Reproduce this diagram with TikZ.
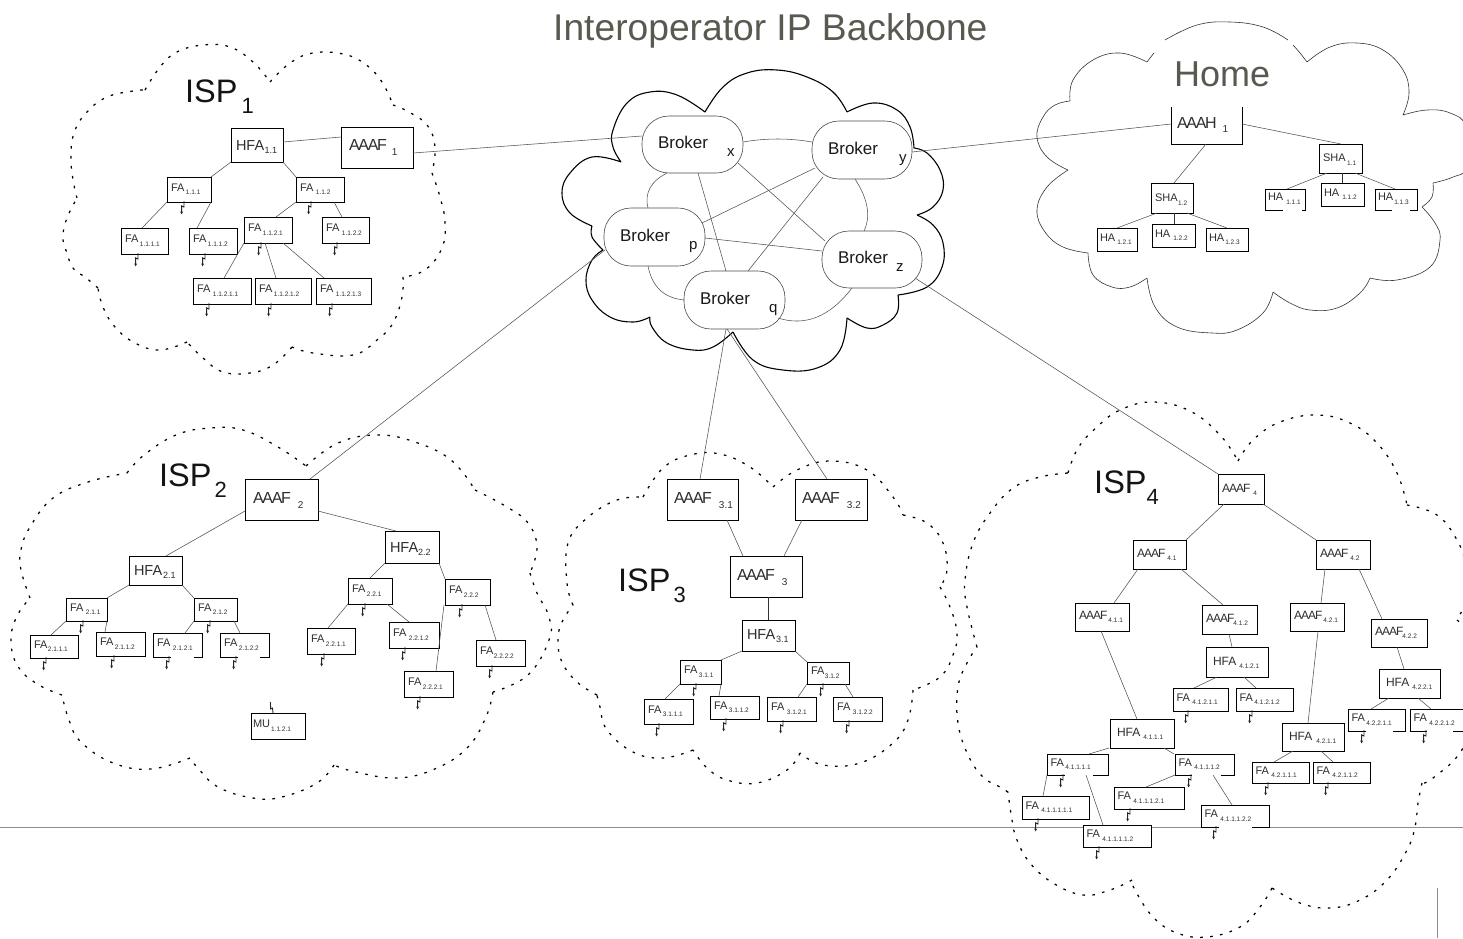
\documentclass[tikz,border=0pt]{standalone}
\usepackage{fontspec}
\setmainfont{Liberation Sans}
\newfontfamily\tightf[LetterSpace=-8]{Liberation Sans}
\usetikzlibrary{calc,arrows.meta}
\definecolor{titlegrey}{HTML}{5A5950}
\tikzset{
  box/.style={draw=black,fill=white,line width=1pt,inner ysep=0pt,outer sep=0pt,align=left,text=black!82},
  brokerbox/.style={draw=black!70,fill=white,line width=.6pt,rounded corners=27pt,inner ysep=0pt,outer sep=0pt,align=left,text=black!90},
  conn/.style={draw=black!68,line width=.55pt},
  connthick/.style={draw=black!80,line width=.9pt},
  zz/.style={draw=black!85,line width=.9pt,-{Stealth[length=2.8pt,width=2.8pt]}},
  zzup/.style={draw=black!85,line width=.9pt},
  gapline/.style={draw=white,line width=1.6pt},
  ispcloud/.style={draw=black,line width=1.25pt,dash pattern=on 2.6pt off 7.4pt},
  brokercloud/.style={draw=black,line width=1.1pt},
  homecloud/.style={draw=black!80,line width=.6pt},
  biglabel/.style={anchor=base west,inner sep=0pt,text=black!92},
  graylabel/.style={anchor=base west,inner sep=0pt,text=titlegrey},
  rulegrey/.style={draw=black!45,line width=.7pt}
}
\def\kStyle{box}
\newcommand\Kind[5]{\def\kM{#1}\def\kS{#2}\def\kB{#3}\def\kD{#4}\def\kP{#5}}
\newcommand\Bx[8]{%
  \pgfmathsetmacro\bw{#4-#2}\pgfmathsetmacro\bh{#5-#3}%
  \pgfmathsetmacro\bT{\kB*\bh}\pgfmathsetmacro\bD{\bh-\bT}\pgfmathsetmacro\bX{\bw-2*\kP}%
  \node[\kStyle,inner xsep=\kP pt,text width=\bX pt,text height=\bT pt,text depth=\bD pt] (#1) at ({(#2+#4)/2},{(#3+#5)/2})
    {\mbox{\fontsize{\kM}{\kM}\selectfont #6\hspace*{#7pt}\raisebox{-\kD pt}{\fontsize{\kS}{\kS}\selectfont #8}}};}
\newcommand\Ed[4]{\draw[conn] (#2,0 |- #1.south) -- (#4,0 |- #3.north);}
\newcommand\Zg[2]{\draw[zz] (#2+1,0 |- #1.south) ++(0,-1) -- ++(0,6) -- ++(-2.4,-1.2) -- ++(0,8.5);}
\newcommand\GapS[3]{\draw[gapline] (#2,0 |- #1.south) -- (#3,0 |- #1.south);}
\newcommand\GapN[3]{\draw[gapline] (#2,0 |- #1.north) -- (#3,0 |- #1.north);}
\newcommand\AF{{\tightf AAAF}}
\newcommand\AH{{\tightf AAAH}}
\newcommand\IspL[4]{\node[biglabel] (#1) at (#2) {\fontsize{32.5}{32.5}\selectfont ISP\hspace*{#3pt}\raisebox{-11pt}{\fontsize{22}{22}\selectfont #4}};}
\begin{document}
\begin{tikzpicture}[x=1pt,y=-1pt]
\useasboundingbox (0,0) rectangle (1463,938);
\fill[white] (0,0) rectangle (1463,938);
% rules
\coordinate (ruleL) at (0,827); \coordinate (ruleR) at (1463,827);
\coordinate (ruleT) at (1437,888); \coordinate (ruleB) at (1437,938);
\draw[rulegrey] (ruleL) -- (ruleR);
\draw[rulegrey] (ruleT) -- (ruleB);
% ISP1 cloud
\draw[ispcloud]
 plot[smooth,tension=.7] coordinates {(145,90)(160,67)(177,52)(203,45)(230,47)(253,62)(270,82)}
 plot[smooth,tension=.7] coordinates {(270,82)(290,63)(313,53)(343,54)(365,64)(382,82)(393,105)}
 plot[smooth,tension=.7] coordinates {(393,105)(407,111)(427,125)(435,147)(432,173)}
 plot[smooth,tension=.7] coordinates {(432,173)(440,197)(445,222)(442,248)(425,270)(403,277)}
 plot[smooth,tension=.7] coordinates {(403,277)(402,297)(393,323)(377,340)(353,355)(313,353)(292,347)}
 plot[smooth,tension=.7] coordinates {(292,347)(273,365)(250,373)(223,372)(203,358)(187,342)}
 plot[smooth,tension=.7] coordinates {(187,342)(160,350)(135,343)(115,327)(103,307)(98,288)}
 plot[smooth,tension=.7] coordinates {(98,288)(85,277)(73,268)(65,247)(63,235)(67,218)(77,198)}
 plot[smooth,tension=.7] coordinates {(77,198)(74,185)(71,160)(74,133)(87,112)(107,97)(133,91)(145,90)};
% ISP2 cloud
\draw[ispcloud]
 plot[smooth,tension=.7] coordinates {(127,473)(144,455)(176,435)(210,428)(243,430)(278,447)(306,466)}
 plot[smooth,tension=.7] coordinates {(306,466)(338,443)(377,435)(415,442)(451,460)(475,490)}
 plot[smooth,tension=.7] coordinates {(475,490)(507,507)(528,523)(537,547)(530,573)}
 plot[smooth,tension=.7] coordinates {(530,573)(537,593)(549,617)(549,640)(528,675)(493,692)}
 plot[smooth,tension=.7] coordinates {(493,692)(486,717)(468,747)(437,768)(398,778)(356,772)(334,765)}
 plot[smooth,tension=.7] coordinates {(334,765)(317,783)(282,797)(253,798)(218,787)(197,767)(190,758)}
 plot[smooth,tension=.7] coordinates {(190,758)(151,769)(113,763)(81,742)(69,720)(62,695)}
 plot[smooth,tension=.7] coordinates {(62,695)(39,685)(19,668)(11,643)(16,618)(30,598)}
 plot[smooth,tension=.7] coordinates {(30,598)(21,570)(21,550)(30,527)(53,498)(88,482)(127,473)};
% ISP3 cloud
\draw[ispcloud]
 plot[smooth,tension=.7] coordinates {(643,497)(663,468)(690,455)(720,454)(750,467)(773,487)}
 plot[smooth,tension=.7] coordinates {(773,487)(797,470)(830,461)(867,470)(893,497)(903,515)}
 plot[smooth,tension=.7] coordinates {(903,515)(927,523)(943,543)(947,570)(940,587)}
 plot[smooth,tension=.7] coordinates {(940,587)(950,607)(957,633)(953,655)(940,677)(913,690)}
 plot[smooth,tension=.7] coordinates {(913,690)(908,720)(893,743)(860,763)(823,765)(800,753)}
 plot[smooth,tension=.7] coordinates {(800,753)(787,770)(757,783)(727,780)(707,768)(693,750)}
 plot[smooth,tension=.7] coordinates {(693,750)(663,758)(633,752)(607,730)(600,707)(597,695)}
 plot[smooth,tension=.7] coordinates {(597,695)(577,682)(562,662)(558,640)(562,622)(573,605)}
 plot[smooth,tension=.7] coordinates {(573,605)(567,583)(568,543)(587,518)(617,500)(643,497)};
% ISP4 cloud
\draw[ispcloud]
 plot[smooth,tension=.7] coordinates {(977,647)(967,607)(965,580)(973,543)(990,513)(1013,488)(1040,477)(1068,473)}
 plot[smooth,tension=.7] coordinates {(1068,473)(1078,448)(1097,427)(1120,410)(1153,402)(1190,411)(1220,435)(1238,461)}
 plot[smooth,tension=.7] coordinates {(1238,461)(1253,440)(1280,422)(1317,415)(1350,423)(1377,443)(1397,473)(1407,505)}
 plot[smooth,tension=.7] coordinates {(1407,505)(1437,515)(1457,540)(1466,565)(1470,590)(1457,620)}
 plot[smooth,tension=.7] coordinates {(1457,620)(1468,637)(1485,690)(1463,748)(1433,778)(1422,783)}
 plot[smooth,tension=.7] coordinates {(1422,783)(1418,803)(1415,827)(1407,850)(1387,880)(1360,900)(1330,908)(1300,903)(1272,888)}
 plot[smooth,tension=.7] coordinates {(1272,888)(1260,907)(1240,927)(1207,937)(1177,933)(1153,917)(1135,890)(1132,880)}
 plot[smooth,tension=.7] coordinates {(1132,880)(1110,890)(1083,895)(1053,883)(1030,863)(1017,840)(1012,820)(1008,792)}
 plot[smooth,tension=.7] coordinates {(1008,792)(1000,787)(983,777)(968,755)(958,723)(958,687)(967,663)(977,647)};
% Broker cloud
\draw[brokercloud]
 plot[smooth,tension=.7] coordinates {(705,112)(723,87)(747,73)(777,70)(807,77)(833,92)(847,112)}
 plot[smooth,tension=.7] coordinates {(847,112)(873,103)(897,110)(910,127)(914,148)}
 plot[smooth,tension=.7] coordinates {(914,148)(927,153)(940,170)(943,190)(933,207)(917,215)}
 plot[smooth,tension=.7] coordinates {(917,215)(933,225)(943,243)(942,267)(927,287)(898,295)}
 plot[smooth,tension=.7] coordinates {(898,295)(897,313)(883,325)(867,328)(847,318)}
 plot[smooth,tension=.7] coordinates {(847,318)(840,350)(817,368)(783,370)(753,360)(733,332)}
 plot[smooth,tension=.7] coordinates {(733,332)(713,347)(693,350)(667,343)(652,327)(650,317)}
 plot[smooth,tension=.7] coordinates {(650,317)(633,322)(610,317)(592,300)(586,280)(592,260)(603,250)}
 plot[smooth,tension=.7] coordinates {(603,250)(592,237)(592,226)}
 plot[smooth,tension=.7] coordinates {(592,226)(570,213)(562,193)(570,173)(592,157)(621,162)}
 plot[smooth,tension=.7] coordinates {(621,162)(613,147)(613,130)(627,103)(650,92)(677,95)(705,112)};
% Home cloud
\draw[homecloud]
 plot[smooth,tension=.7] coordinates {(1070,101)(1073,80)(1093,60)(1120,53)(1147,62)}
 plot[smooth,tension=.7] coordinates {(1147,62)(1150,58)(1154,53)}
 plot[smooth,tension=.7] coordinates {(1165,40)(1197,25)(1230,22)(1263,27)(1288,40)}
 plot[smooth,tension=.7] coordinates {(1293,45)(1300,53)(1307,62)}
 plot[smooth,tension=.7] coordinates {(1307,62)(1330,47)(1357,43)(1383,50)(1403,70)(1409,93)(1403,115)}
 plot[smooth,tension=.7] coordinates {(1403,115)(1427,110)(1450,113)(1466,127)(1466,167)(1453,177)(1433,183)}
 plot[smooth,tension=.7] coordinates {(1433,183)(1432,197)(1422,207)}
 plot[smooth,tension=.7] coordinates {(1422,207)(1435,223)(1440,240)(1430,267)(1397,280)(1370,278)}
 plot[smooth,tension=.7] coordinates {(1370,278)(1360,293)(1337,308)(1310,310)(1290,303)(1273,292)}
 plot[smooth,tension=.7] coordinates {(1273,292)(1263,313)(1237,330)(1212,333)(1177,327)(1155,307)(1147,278)}
 plot[smooth,tension=.7] coordinates {(1147,278)(1130,287)(1112,287)(1093,275)(1088,253)}
 plot[smooth,tension=.7] coordinates {(1088,253)(1063,247)(1045,232)(1037,210)(1047,187)(1068,170)}
 plot[smooth,tension=.7] coordinates {(1068,170)(1047,157)(1037,137)(1043,117)(1055,105)(1070,101)};
% titles
\node[graylabel] (title) at (553,40.5) {\fontsize{37.2}{37.2}\selectfont Interoperator IP Backbone};
\node[graylabel] (home) at (1174,86) {\fontsize{36}{36}\selectfont Home};
\IspL{isp1}{185,102}{4}{1}
\IspL{isp2}{159,486}{3}{2}
\IspL{isp3}{618,591}{3}{3}
\IspL{isp4}{1094,493}{0}{4}
% Brokers
\def\kStyle{brokerbox}
\Kind{17}{15}{.57}{8}{16}
\Bx{bx}{642}{116}{743}{173}{Broker}{19}{x}
\Bx{by}{812}{121}{912}{179}{Broker}{21}{y}
\Bx{bp}{604}{208}{705}{266}{Broker}{19}{p}
\Bx{bz}{822}{231}{922}{288}{Broker}{8}{z}
\Bx{bq}{684}{271}{785}{329}{Broker}{19}{q}
\def\kStyle{box}
% ISP1 boxes
\Kind{14.5}{9}{.67}{3}{5}
\Bx{hfa11}{231}{128}{283}{162}{HFA}{.5}{1.1}
\Kind{16}{10}{.57}{5.5}{8}
\Bx{aaaf1}{341}{127}{413}{168}{\AF}{5}{1}
\Kind{11}{6.5}{.57}{3.5}{4}
\Bx{fa111}{167}{177}{211}{202}{FA}{1.5}{1.1.1}
\Bx{fa112}{296}{177}{344}{202}{FA}{2.5}{1.1.2}
\Bx{fa1111}{121}{228}{168}{254}{FA}{1.5}{1.1.1.1}
\Bx{fa1112}{189}{228}{237}{254}{FA}{1.5}{1.1.1.2}
\Bx{fa1121}{244}{217}{292}{243}{FA}{1.5}{1.1.2.1}
\Bx{fa1122}{322}{217}{369}{243}{FA}{2.5}{1.1.2.2}
\Bx{fa11211}{193}{278}{251}{304}{FA}{2.5}{1.1.2.1.1}
\Bx{fa11212}{255}{278}{311}{304}{FA}{1.5}{1.1.2.1.2}
\Bx{fa11213}{316}{278}{371}{304}{FA}{2.5}{1.1.2.1.3}
% Home boxes
\Kind{16}{10}{.57}{4.5}{6}
\Bx{aaah}{1171}{107}{1242}{144}{\AH}{6}{1}
\GapN{aaah}{1171.5}{1241.5}
\Kind{11}{6.5}{.62}{3.5}{4}
\Bx{sha11}{1319}{144}{1362}{173}{SHA}{1.5}{1.1}
\Bx{sha12}{1151}{183}{1193}{213}{SHA}{.5}{1.2}
\Kind{11}{6.5}{.57}{3.5}{3}
\Bx{ha111}{1265}{189}{1305}{210}{HA}{3}{1.1.1}
\Bx{ha112}{1321}{183}{1364}{206}{HA}{3}{1.1.2}
\Bx{ha113}{1375}{189}{1417}{210}{HA}{1}{1.1.3}
\Bx{ha121}{1097}{228}{1137}{251}{HA}{2}{1.2.1}
\Bx{ha122}{1152}{224}{1195}{247}{HA}{3}{1.2.2}
\Bx{ha123}{1206}{228}{1248}{251}{HA}{1}{1.2.3}
\GapS{ha111}{1283}{1302}
\GapS{ha113}{1392}{1410}
% ISP2 boxes
\Kind{16}{10}{.6}{5}{8}
\Bx{aaaf2}{245}{479}{318}{520}{\AF}{7}{2}
\Kind{14.5}{9}{.67}{3}{5}
\Bx{hfa21}{129}{556}{182}{585}{HFA}{1}{2.1}
\Bx{hfa22}{385}{531}{439}{563}{HFA}{0}{2.2}
\Kind{11}{6.5}{.57}{3.5}{4}
\Bx{fa211}{66}{598}{107}{621}{FA}{2.5}{2.1.1}
\Bx{fa212}{194}{598}{237}{621}{FA}{1.5}{2.1.2}
\Bx{fa2111}{30}{635}{78}{658}{FA}{.5}{2.1.1.1}
\Bx{fa2112}{96}{632}{145}{656}{FA}{1.5}{2.1.1.2}
\Bx{fa2121}{153}{633}{202}{657}{FA}{2.5}{2.1.2.1}
\Bx{fa2122}{220}{633}{269}{657}{FA}{1.5}{2.1.2.2}
\Bx{fa221}{348}{578}{392}{604}{FA}{1.5}{2.2.1}
\Bx{fa222}{445}{579}{490}{605}{FA}{1.5}{2.2.2}
\Bx{fa2211}{307}{628}{355}{654}{FA}{1.5}{2.2.1.1}
\Bx{fa2212}{389}{622}{439}{648}{FA}{2.5}{2.2.1.2}
\Bx{fa2221}{404}{671}{453}{697}{FA}{1.5}{2.2.2.1}
\Bx{fa2222}{476}{640}{525}{666}{FA}{.5}{2.2.2.2}
\GapS{fa2121}{171}{194}
\GapS{fa2122}{238}{260}
\Kind{11}{6.5}{.57}{3.5}{2}
\Bx{mu}{251}{713}{305}{739}{MU}{1}{1.1.2.1}
% ISP3 boxes
\Kind{16}{10}{.6}{5}{7}
\Bx{aaaf31}{667}{479}{738}{520}{\AF}{7}{3.1}
\Bx{aaaf32}{795}{479}{867}{520}{\AF}{7}{3.2}
\Bx{aaaf3}{730}{556}{802}{597}{\AF}{7}{3}
\Kind{14.5}{9}{.63}{3}{5}
\Bx{hfa31}{742}{620}{795}{651}{HFA}{1}{3.1}
\Kind{11}{6.5}{.57}{3.5}{4}
\Bx{fa311}{680}{660}{721}{684}{FA}{1.5}{3.1.1}
\Bx{fa312}{807}{662}{849}{684}{FA}{.5}{3.1.2}
\Bx{fa3111}{644}{699}{693}{724}{FA}{1.5}{3.1.1.1}
\Bx{fa3112}{710}{696}{759}{719}{FA}{1.5}{3.1.1.2}
\Bx{fa3121}{767}{697}{816}{721}{FA}{2.5}{3.1.2.1}
\Bx{fa3122}{833}{697}{882}{721}{FA}{2.5}{3.1.2.2}
% ISP4 boxes
\Kind{12}{6.5}{.6}{3}{4}
\Bx{aaaf4}{1218}{474}{1264}{504}{\AF}{3}{4}
\Bx{aaaf41}{1133}{540}{1186}{569}{\AF}{2}{4.1}
\Bx{aaaf42}{1316}{540}{1370}{569}{\AF}{2}{4.2}
\Bx{aaaf411}{1075}{603}{1129}{631}{\AF}{1}{4.1.1}
\Bx{aaaf412}{1202}{605}{1257}{634}{\AF}{-1}{4.1.2}
\Bx{aaaf421}{1290}{603}{1344}{631}{\AF}{1}{4.2.1}
\Bx{aaaf422}{1371}{619}{1427}{647}{\AF}{-1}{4.2.2}
\Kind{12}{6.5}{.62}{3}{7}
\Bx{hfa4121}{1206}{647}{1268}{677}{HFA}{3}{4.1.2.1}
\Bx{hfa4221}{1379}{669}{1440}{698}{HFA}{3}{4.2.2.1}
\Bx{hfa4111}{1110}{719}{1174}{748}{HFA}{3}{4.1.1.1}
\Bx{hfa4211}{1282}{723}{1344}{751}{HFA}{4}{4.2.1.1}
\Kind{11}{6.5}{.58}{3.5}{3.5}
\Bx{fa41211}{1173}{688}{1228}{711}{FA}{2.5}{4.1.2.1.1}
\Bx{fa41212}{1236}{688}{1293}{711}{FA}{1.5}{4.1.2.1.2}
\Bx{fa42211}{1348}{709}{1405}{731}{FA}{1.5}{4.2.2.1.1}
\Bx{fa42212}{1410}{709}{1466}{731}{FA}{2.5}{4.2.2.1.2}
\Bx{fa41111}{1047}{754}{1108}{775}{FA}{1.5}{4.1.1.1.1}
\Bx{fa41112}{1175}{754}{1234}{775}{FA}{2.5}{4.1.1.1.2}
\Bx{fa42111}{1252}{762}{1309}{783}{FA}{2.5}{4.2.1.1.1}
\Bx{fa42112}{1313}{762}{1370}{783}{FA}{2.5}{4.2.1.1.2}
\Bx{fa411111}{1022}{796}{1089}{819}{FA}{2.5}{4.1.1.1.1.1}
\Bx{fa411121}{1114}{787}{1184}{809}{FA}{2.5}{4.1.1.1.2.1}
\Bx{fa411112}{1083}{825}{1151}{847}{FA}{2.5}{4.1.1.1.1.2}
\Bx{fa411122}{1201}{805}{1269}{827}{FA}{2.5}{4.1.1.1.2.2}
\GapS{fa41111}{1065}{1093}
\GapS{fa41112}{1192}{1221}
\GapS{fa411122}{1219}{1252}
\GapS{fa42211}{1366}{1393}
\GapS{fa42212}{1427}{1453}
% Broker mesh
\draw[conn] (bx.east |- 0,142) .. controls (766.3,138) and (789.3,138) .. (by.west |- 0,142);
\draw[conn] (667,0 |- bx.south) .. controls (650.7,181.3) and (644.3,193) .. (648,0 |- bp.north);
\draw[conn] (855,0 |- by.south) .. controls (868,199) and (871,216.3) .. (864,0 |- bz.north);
\draw[conn] (648,0 |- bp.south) .. controls (652,286.7) and (664,298) .. (bq.west |- 0,300);
\draw[conn] ([shift={(-7,-11)}]bq.south east) .. controls (805.3,326.7) and (830,316.7) .. (852,0 |- bz.south);
\draw[conn] (698,0 |- bx.south) -- (726,0 |- bq.north);
\draw[conn] ([shift={(-5,-10)}]bx.south east) -- ([shift={(3,10)}]bz.north west);
\draw[conn] ([shift={(3,-11)}]by.south west) -- ([shift={(-3,15)}]bp.north east);
\draw[conn] ([shift={(11,-2)}]by.south west) -- (748,0 |- bq.north);
\draw[conn] (bp.east |- 0,238) -- (bz.west |- 0,251);
% Broker to domains
\draw[conn] (aaaf1.east |- 0,153) -- (bx.west |- 0,136);
\draw[conn] (by.east |- 0,152) -- (aaah.west |- 0,124);
\draw[conn] ([shift={(1,-16)}]bp.south west) -- (310,0 |- aaaf2.north);
\draw[conn] (726,0 |- bq.south) -- (700,0 |- aaaf31.north);
\draw[conn] (727,0 |- bq.south) -- (827,0 |- aaaf32.north);
\draw[conn] ([shift={(-7,-10)}]bz.south east) -- (aaaf4.north west);
% ISP1 edges
\draw[conn] (hfa11.east |- 0,142) -- (aaaf1.west |- 0,137);
\Ed{hfa11}{231}{fa111}{211}
\Ed{hfa11}{283}{fa112}{296}
\Ed{fa111}{167}{fa1111}{142}
\Ed{fa111}{211}{fa1112}{197}
\Ed{fa112}{296}{fa1121}{276}
\Ed{fa112}{334}{fa1122}{342}
\Ed{fa1121}{244}{fa11211}{224}
\Ed{fa1121}{265}{fa11212}{276}
\Ed{fa1121}{283}{fa11213}{324}
% Home edges
\Ed{aaah}{1206}{sha12}{1174}
\draw[conn] (aaah.east |- 0,124) -- (1341,0 |- sha11.north);
\Ed{sha11}{1327}{ha111}{1287}
\draw[connthick] (1342,0 |- sha11.south) -- (1342,0 |- ha112.north);
\Ed{sha11}{1355}{ha113}{1395}
\Ed{sha12}{1157}{ha121}{1117}
\draw[connthick] (1174,0 |- sha12.south) -- (1174,0 |- ha122.north);
\Ed{sha12}{1187}{ha123}{1227}
% ISP2 edges
\draw[conn] (aaaf2.west |- 0,511) -- (166,0 |- hfa21.north);
\draw[conn] (aaaf2.east |- 0,511) -- (396,0 |- hfa22.north);
\Ed{hfa21}{129}{fa211}{107}
\Ed{hfa21}{182}{fa212}{194}
\Ed{fa211}{66}{fa2111}{51}
\Ed{fa211}{107}{fa2112}{105}
\Ed{fa212}{194}{fa2121}{185}
\Ed{fa212}{234}{fa2122}{240}
\Ed{hfa22}{385}{fa221}{370}
\Ed{hfa22}{439}{fa222}{445}
\Ed{fa221}{348}{fa2211}{328}
\Ed{fa221}{387}{fa2212}{409}
\Ed{fa222}{444}{fa2221}{436}
\Ed{fa222}{485}{fa2222}{496}
% ISP3 edges
\Ed{aaaf31}{727}{aaaf3}{743}
\Ed{aaaf32}{802}{aaaf3}{784}
\draw[connthick] (768,0 |- aaaf3.south) -- (768,0 |- hfa31.north);
\Ed{hfa31}{742}{fa311}{721}
\Ed{hfa31}{795}{fa312}{807}
\Ed{fa311}{680}{fa3111}{665}
\Ed{fa311}{721}{fa3112}{719}
\Ed{fa312}{807}{fa3121}{798}
\Ed{fa312}{845}{fa3122}{853}
% ISP4 edges
\Ed{aaaf4}{1224}{aaaf41}{1186}
\Ed{aaaf4}{1263}{aaaf42}{1316}
\Ed{aaaf41}{1138}{aaaf411}{1114}
\Ed{aaaf41}{1181}{aaaf412}{1223}
\Ed{aaaf42}{1325}{aaaf421}{1321}
\Ed{aaaf42}{1359}{aaaf422}{1382}
\Ed{aaaf411}{1101}{hfa4111}{1137}
\Ed{aaaf412}{1229}{hfa4121}{1232}
\Ed{aaaf421}{1318}{hfa4211}{1308}
\Ed{aaaf422}{1397}{hfa4221}{1404}
\Ed{hfa4121}{1217}{fa41211}{1194}
\Ed{hfa4121}{1244}{fa41212}{1256}
\Ed{hfa4221}{1389}{fa42211}{1371}
\Ed{hfa4221}{1418}{fa42212}{1431}
\Ed{hfa4211}{1293}{fa42111}{1274}
\Ed{hfa4211}{1321}{fa42112}{1333}
\Ed{hfa4111}{1109}{fa41111}{1089}
\Ed{hfa4111}{1164}{fa41112}{1174}
\Ed{fa41111}{1047}{fa411111}{1043}
\Ed{fa41111}{1086}{fa411112}{1103}
\Ed{fa41112}{1175}{fa411121}{1146}
\Ed{fa41112}{1213}{fa411122}{1232}
% radio marks
\Zg{fa111}{183}\Zg{fa112}{310}\Zg{fa1111}{137}\Zg{fa1112}{204}\Zg{fa1121}{260}\Zg{fa1122}{336}
\Zg{fa11211}{208}\Zg{fa11212}{270}\Zg{fa11213}{331}
\Zg{fa211}{82}\Zg{fa212}{209}\Zg{fa2111}{45}\Zg{fa2112}{113}\Zg{fa2121}{168}\Zg{fa2122}{235}
\Zg{fa221}{364}\Zg{fa222}{461}\Zg{fa2211}{323}\Zg{fa2212}{404}\Zg{fa2221}{419}\Zg{fa2222}{491}
\Zg{fa311}{695}\Zg{fa312}{822}\Zg{fa3111}{658}\Zg{fa3112}{725}\Zg{fa3121}{782}\Zg{fa3122}{848}
\Zg{fa41211}{1187}\Zg{fa41212}{1251}\Zg{fa42211}{1363}\Zg{fa42212}{1425}\Zg{fa41111}{1062}\Zg{fa41112}{1190}
\Zg{fa42111}{1267}\Zg{fa42112}{1327}\Zg{fa411111}{1037}\Zg{fa411121}{1129}\Zg{fa411112}{1098}\Zg{fa411122}{1215}
\draw[zzup] (273,0 |- mu.north) -- ++(-.5,-5) -- ++(-1.8,1) -- ++(-.3,-7);
\end{tikzpicture}
\end{document}
